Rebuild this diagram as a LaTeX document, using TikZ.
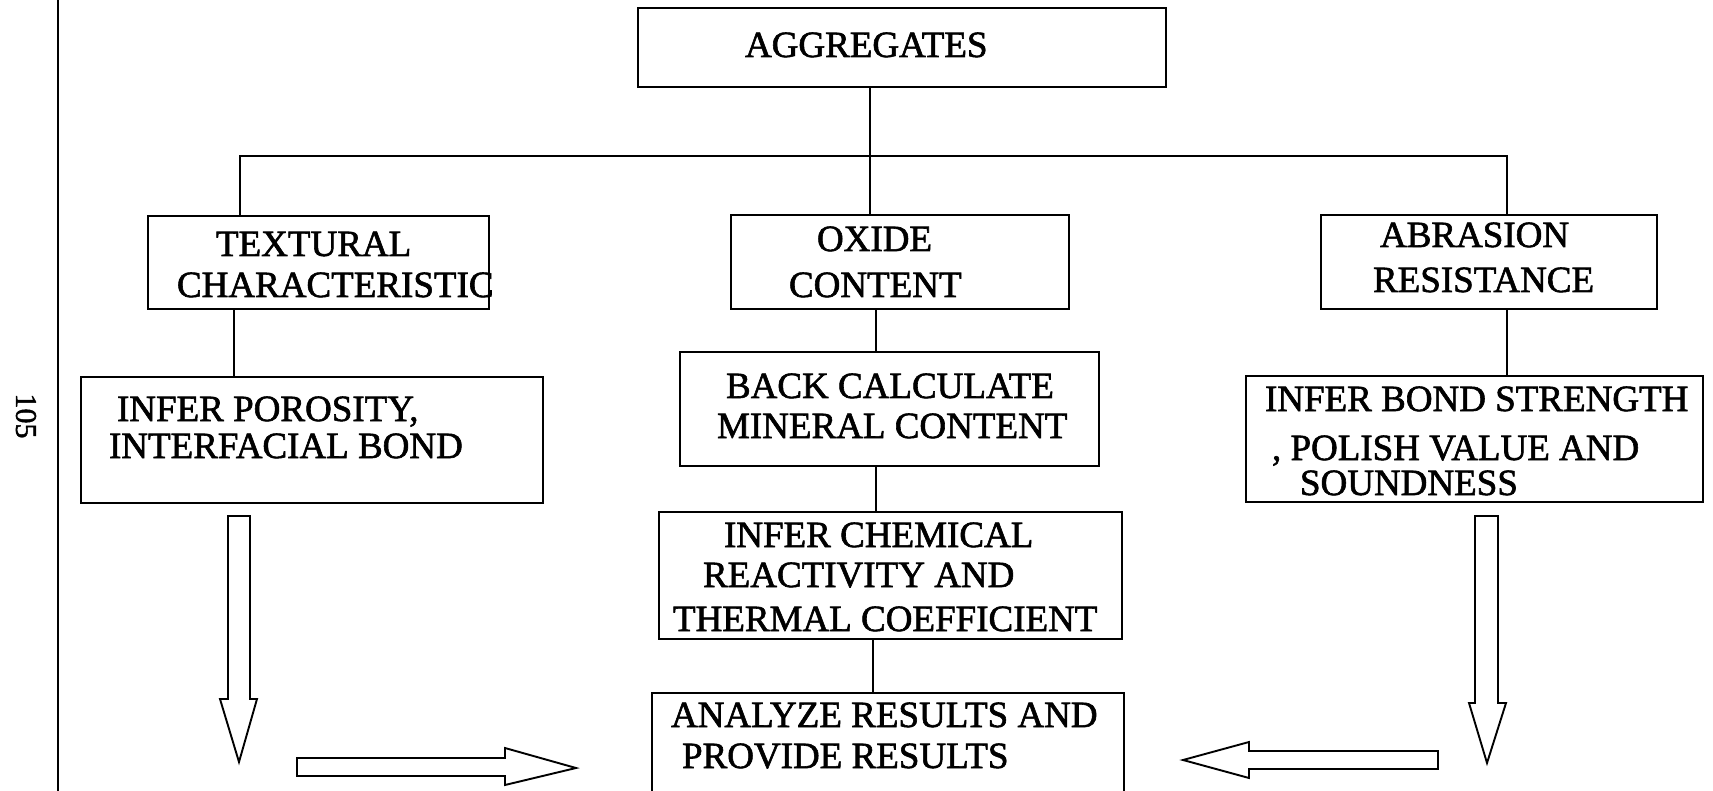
\documentclass[tikz,border=0pt]{standalone}
\usepackage{fontspec}
\setmainfont{Liberation Serif}[FakeBold=1.6]
\begin{document}
\begin{tikzpicture}[x=1pt,y=-1pt,
  stepbox/.style={draw, line width=2pt, inner sep=0pt, outer sep=0pt},
  txt/.style={anchor=base west, inner sep=0pt, outer sep=0pt, font=\fontsize{37}{42}\selectfont},
  link/.style={line width=1.7pt},
  blockarrow/.style={draw, line width=1.9pt, fill=white, line join=miter}]
\clip (0,0) rectangle (1713,791);
\fill[white] (0,0) rectangle (1713,791);

% page margin rule and page number
\draw[line width=2.4pt] (58,0) -- (58,791);
\node[rotate=-90, inner sep=0pt, font=\fontsize{30}{30}\selectfont] (pg) at (26,416) {105};

% boxes
\node[stepbox, minimum width=528pt, minimum height=79pt]  (agg) at (902,47.5) {};
\node[stepbox, minimum width=341pt, minimum height=93pt]  (tex) at (318.5,262.5) {};
\node[stepbox, minimum width=338pt, minimum height=94pt]  (oxi) at (900,262) {};
\node[stepbox, minimum width=336pt, minimum height=94pt]  (abr) at (1489,262) {};
\node[stepbox, minimum width=462pt, minimum height=126pt] (por) at (312,440) {};
\node[stepbox, minimum width=419pt, minimum height=114pt] (bac) at (889.5,409) {};
\node[stepbox, minimum width=457pt, minimum height=126pt] (bnd) at (1474.5,439) {};
\node[stepbox, minimum width=463pt, minimum height=127pt] (che) at (890.5,575.5) {};
\node[stepbox, minimum width=472pt, minimum height=137pt] (ana) at (888,761.5) {};

% box texts
\node[txt] (aggT)  at (745,57)  {AGGREGATES};
\node[txt] (texT1) at (216,256) {TEXTURAL};
\node[txt] (texT2) at (177,297) {CHARACTERISTIC};
\node[txt] (oxiT1) at (817,251) {OXIDE};
\node[txt] (oxiT2) at (789,297) {CONTENT};
\node[txt] (abrT1) at (1380,247) {ABRASION};
\node[txt] (abrT2) at (1373,292) {RESISTANCE};
\node[txt] (porT1) at (117,421) {INFER POROSITY,};
\node[txt] (porT2) at (109,458) {INTERFACIAL BOND};
\node[txt] (bacT1) at (726,398) {BACK CALCULATE};
\node[txt] (bacT2) at (717,438) {MINERAL CONTENT};
\node[txt] (bndT1) at (1265,411) {INFER BOND STRENGTH};
\node[txt] (bndT2) at (1272,460) {, POLISH VALUE AND};
\node[txt] (bndT3) at (1300,495) {SOUNDNESS};
\node[txt] (cheT1) at (724,547) {INFER CHEMICAL};
\node[txt] (cheT2) at (703,587) {REACTIVITY AND};
\node[txt] (cheT3) at (673,631) {THERMAL COEFFICIENT};
\node[txt] (anaT1) at (671,727) {ANALYZE RESULTS AND};
\node[txt] (anaT2) at (682,768) {PROVIDE RESULTS};

% connector columns and the branching bus
\coordinate (colL) at (240,156);
\coordinate (colR) at (1507,156);
\coordinate (colA) at (870,156);
\coordinate (colT) at (234,0);
\coordinate (colO) at (876,0);
\coordinate (colC) at (873,0);

\draw[link] (agg.south -| colA) -- (oxi.north -| colA);
\draw[link] (tex.north -| colL) -- (colL) -- (colR) -- (abr.north -| colR);
\draw[link] (tex.south -| colT) -- (por.north -| colT);
\draw[link] (abr.south -| colR) -- (bnd.north -| colR);
\draw[link] (oxi.south -| colO) -- (bac.north -| colO);
\draw[link] (bac.south -| colO) -- (che.north -| colO);
\draw[link] (che.south -| colC) -- (ana.north -| colC);

% hollow block arrows
\draw[blockarrow] (228,516) -- (250,516) -- (250,699) -- (257,699) -- (239,762)
  -- (220,699) -- (228,699) -- cycle;
\draw[blockarrow] (1475,516) -- (1498,516) -- (1498,703) -- (1506,703) -- (1487,763)
  -- (1469,703) -- (1475,703) -- cycle;
\draw[blockarrow] (297,758) -- (505,758) -- (505,748) -- (576,768) -- (505,785)
  -- (505,776) -- (297,776) -- cycle;
\draw[blockarrow] (1438,751) -- (1249,751) -- (1249,742) -- (1183,760) -- (1249,778)
  -- (1249,769) -- (1438,769) -- cycle;
\end{tikzpicture}
\end{document}
